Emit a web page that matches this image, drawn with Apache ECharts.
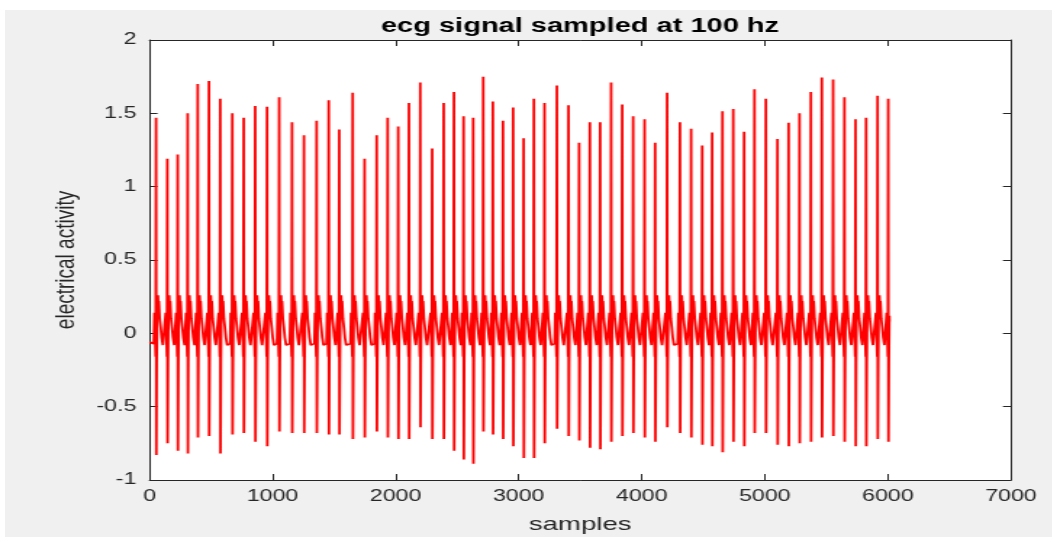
<!DOCTYPE html>
<html><head><meta charset="utf-8">
<script src="https://cdn.jsdelivr.net/npm/echarts@6/dist/echarts.min.js"></script>
<style>
html,body{margin:0;padding:0;background:#fff;overflow:hidden;}
#wrap{width:1057px;height:539px;overflow:hidden;position:relative;}
#bg{position:absolute;left:5px;top:10px;width:1047px;height:527px;background:#f0f0f0;}
#chart{position:absolute;left:0;top:0;width:729px;height:539px;transform:scaleX(1.45);transform-origin:0 0;}
</style></head><body>
<div id="wrap"><div id="bg"></div><div id="chart"></div></div>
<script>
// ---- data ----
const xTickValues = [0, 1000, 2000, 3000, 4000, 5000, 6000, 7000];
const yTickValues = [-1, -0.5, 0, 0.5, 1, 1.5, 2];

// sample index of each R peak
const beatSamples = [53,145,229,310,392,483,575,673,765,859,955,1054,1158,1255,1358,1456,1542,
  1651,1748,1846,1935,2021,2108,2200,2297,2390,2474,2552,2630,2712,2790,2872,2955,3040,
  3123,3210,3310,3405,3491,3578,3662,3751,3841,3930,4023,4109,4206,4310,4401,4491,4572,
  4656,4743,4832,4916,5008,5103,5193,5282,5374,5463,5555,5647,5737,5823,5916,6003];
// R peak heights
const rPeaks = [1.47,1.19,1.22,1.50,1.70,1.72,1.60,1.50,1.47,1.55,1.545,1.61,1.44,1.35,1.45,1.59,1.39,
  1.64,1.19,1.35,1.47,1.41,1.57,1.71,1.26,1.57,1.645,1.48,1.47,1.75,1.58,1.45,1.54,1.33,
  1.60,1.57,1.69,1.555,1.30,1.44,1.44,1.71,1.56,1.48,1.46,1.30,1.64,1.44,1.395,1.28,1.37,
  1.515,1.53,1.375,1.665,1.60,1.325,1.435,1.50,1.645,1.745,1.73,1.61,1.46,1.47,1.62,1.60];
// S trough depths
const sTroughs = [-0.83,-0.75,-0.80,-0.82,-0.71,-0.70,-0.82,-0.69,-0.68,-0.74,-0.77,-0.67,-0.68,-0.68,-0.68,-0.69,-0.69,
  -0.72,-0.71,-0.67,-0.71,-0.72,-0.72,-0.64,-0.72,-0.72,-0.80,-0.86,-0.89,-0.67,-0.69,-0.72,-0.77,-0.85,
  -0.85,-0.75,-0.65,-0.70,-0.73,-0.78,-0.79,-0.74,-0.70,-0.68,-0.71,-0.74,-0.64,-0.68,-0.71,-0.76,-0.77,
  -0.81,-0.74,-0.77,-0.68,-0.68,-0.76,-0.77,-0.75,-0.74,-0.71,-0.70,-0.74,-0.77,-0.77,-0.72,-0.74];
// shape of one beat around its R peak: sample offsets and levels ('R'/'S' = per-beat values)
const beatOffsets = [-18, -13, -8, -3, 0, 2, 5, 9, 15, 19, 23, 30, 38, 46, 56];
const beatLevels  = [-0.07, 0.14, 0.0, -0.16, 'R', 'S', -0.2, 0.12, 0.26, 0.17, 0.22, 0.1, 0.04, -0.03, -0.08];
const signalStart = [0, -0.06];
const signalEnd = [6013, 0.08];

// ---- build the series ----
let pts = [signalStart];
beatSamples.forEach((c, i) => {
  beatOffsets.forEach((off, k) => {
    const lv = beatLevels[k];
    const v = lv === 'R' ? rPeaks[i] : (lv === 'S' ? sTroughs[i] : lv);
    pts.push([c + off, v]);
  });
});
pts = pts.filter(p => p[0] < signalEnd[0]);
pts.push(signalEnd);

const axisColor = '#262626';
const FF = 'Liberation Sans, Arial, sans-serif';
const chart = echarts.init(document.getElementById('chart'));
const xBase = {
  type: 'value', min: xTickValues[0], max: xTickValues[xTickValues.length - 1],
  interval: xTickValues[1] - xTickValues[0],
  axisLine: { show: true, onZero: false, lineStyle: { color: axisColor, width: 1 } },
  axisTick: { show: true, inside: true, length: 6, lineStyle: { color: axisColor, width: 1 } },
  splitLine: { show: false }
};
const yBase = {
  type: 'value', min: yTickValues[0], max: yTickValues[yTickValues.length - 1],
  interval: yTickValues[1] - yTickValues[0],
  axisLine: { show: true, onZero: false, lineStyle: { color: axisColor, width: 1 } },
  axisTick: { show: true, inside: true, length: 5.5, lineStyle: { color: axisColor, width: 1 } },
  splitLine: { show: false }
};
chart.setOption({
  animation: false,
  backgroundColor: 'transparent',
  title: {
    text: 'ecg signal sampled at 100 hz',
    left: 395, top: 11, textAlign: 'center',
    textStyle: { fontFamily: FF, fontWeight: 'bold', fontSize: 20, color: '#000' }
  },
  grid: { left: 103.1, right: 31.8, top: 40, bottom: 59, show: true, backgroundColor: '#fff', borderWidth: 0 },
  xAxis: [
    Object.assign({}, xBase, {
      position: 'bottom',
      axisLabel: { margin: 9, fontSize: 16, color: axisColor, fontFamily: FF, formatter: v => String(v) },
      name: 'samples', nameLocation: 'middle', nameGap: 35,
      nameTextStyle: { fontSize: 19, color: axisColor, fontFamily: FF }
    }),
    Object.assign({}, xBase, { position: 'top', axisLabel: { show: false } })
  ],
  yAxis: [
    Object.assign({}, yBase, {
      position: 'left',
      axisLabel: { margin: 9, fontSize: 16, color: axisColor, fontFamily: FF, formatter: v => String(v) },
      name: 'electrical activity', nameLocation: 'middle', nameRotate: 90, nameGap: 48,
      nameTextStyle: { fontSize: 19, color: axisColor, fontFamily: FF }
    }),
    Object.assign({}, yBase, { position: 'right', axisLabel: { show: false } })
  ],
  series: [{
    type: 'line', data: pts, xAxisIndex: 0, yAxisIndex: 0,
    showSymbol: false, symbol: 'none', sampling: null,
    lineStyle: { color: '#ff0000', width: 1.8 },
    itemStyle: { color: '#ff0000' }
  }]
});
</script>
</body></html>
